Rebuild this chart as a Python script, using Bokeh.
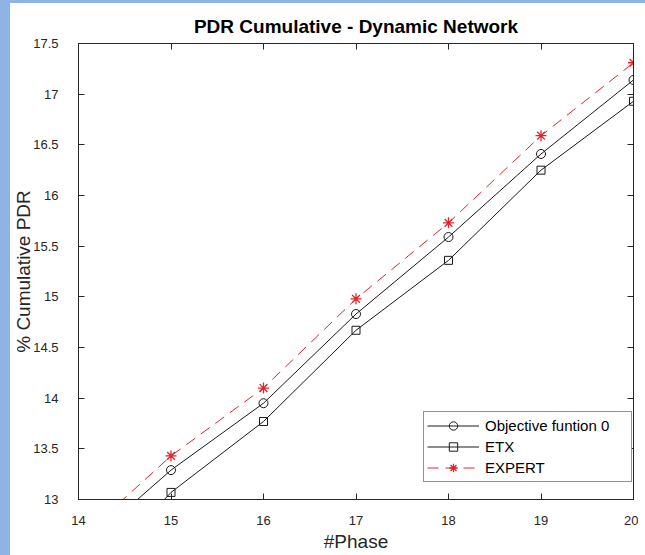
from bokeh.plotting import figure
from bokeh.models import (LinearAxis, FixedTicker, Legend, LegendItem, Range1d,
                          CustomLabelingPolicy, Div)
from bokeh.layouts import column, row
from bokeh.embed import file_html
from bokeh.resources import INLINE

phase = [14, 15, 16, 17, 18, 19, 20]
objective = [12.49, 13.29, 13.95, 14.83, 15.59, 16.41, 17.14]
etx = [12.10, 13.07, 13.77, 14.67, 15.36, 16.25, 16.93]
expert = [12.60, 13.43, 14.10, 14.98, 15.73, 16.59, 17.31]

x_ticks = [14, 15, 16, 17, 18, 19, 20]
y_ticks = [13, 13.5, 14, 14.5, 15, 15.5, 16, 16.5, 17, 17.5]
y_tick_labels = ["13", "13.5", "14", "14.5", "15", "15.5", "16", "16.5", "17", "17.5"]

FONT = "Liberation Sans"
AX = "#262626"
RED = "#e3242b"
BLUE = "#8db4e2"

p = figure(
    frame_width=555, frame_height=456,
    x_range=Range1d(14, 20), y_range=Range1d(13, 17.5),
    output_backend="svg", toolbar_location=None,
    min_border_left=67, min_border_top=40, min_border_right=0, min_border_bottom=56,
    title="PDR Cumulative - Dynamic Network",
    x_axis_label="#Phase", y_axis_label="% Cumulative PDR",
    margin=(0, 0, 0, 0),
)
p.title.align = "center"
p.title.text_font = FONT
p.title.text_font_size = "19px"
p.title.text_font_style = "bold"
p.title.text_color = "#000000"
p.title.standoff = 6

p.xgrid.visible = False
p.ygrid.visible = False
p.outline_line_color = AX
p.outline_line_width = 1
p.outline_line_alpha = 1
p.background_fill_color = "white"
p.border_fill_color = "white"

for ax in (p.xaxis[0], p.yaxis[0]):
    ax.major_tick_in = 6
    ax.major_tick_out = 0
    ax.minor_tick_in = 0
    ax.minor_tick_out = 0
    ax.axis_line_color = AX
    ax.major_tick_line_color = AX
    ax.major_label_text_font = FONT
    ax.major_label_text_font_size = "13px"
    ax.major_label_text_color = AX
    ax.axis_label_text_font = FONT
    ax.axis_label_text_font_size = "19px"
    ax.axis_label_text_font_style = "normal"
    ax.axis_label_text_color = AX

p.xaxis[0].ticker = FixedTicker(ticks=x_ticks)
p.yaxis[0].ticker = FixedTicker(ticks=y_ticks)
p.yaxis[0].major_label_overrides = {t: l for t, l in zip(y_ticks, y_tick_labels)}
p.xaxis[0].major_label_standoff = 16
p.xaxis[0].axis_label_standoff = 3
p.yaxis[0].major_label_standoff = 20
p.yaxis[0].axis_label_standoff = -4

# mirrored ticks on top and right (box style), without labels
hide_all = "for (const i of indices) { indices.unset(i) }\nreturn indices"
top = LinearAxis(ticker=FixedTicker(ticks=x_ticks),
                 major_label_policy=CustomLabelingPolicy(code=hide_all),
                 major_label_text_font_size="1px",
                 major_tick_in=6, major_tick_out=0, minor_tick_in=0, minor_tick_out=0,
                 axis_line_color=AX, major_tick_line_color=AX, major_label_standoff=0)
right = LinearAxis(ticker=FixedTicker(ticks=y_ticks),
                   major_label_policy=CustomLabelingPolicy(code=hide_all),
                   major_label_text_font_size="1px",
                   major_tick_in=6, major_tick_out=0, minor_tick_in=0, minor_tick_out=0,
                   axis_line_color=AX, major_tick_line_color=AX, major_label_standoff=0)
p.add_layout(top, "above")
p.add_layout(right, "right")

r1 = p.line(phase, objective, line_color="#1a1a1a", line_width=1)
m1 = p.scatter(phase, objective, marker="circle", size=9, fill_color=None,
               line_color="#1a1a1a", line_width=1)
r2 = p.line(phase, etx, line_color="#1a1a1a", line_width=1)
m2 = p.scatter(phase, etx, marker="square", size=8, fill_color=None,
               line_color="#1a1a1a", line_width=1)
r3 = p.line(phase, expert, line_color=RED, line_width=1, line_dash="11 7")
m3 = p.scatter(phase, expert, marker="asterisk", size=11, line_color=RED, line_width=1.3)

legend = Legend(items=[
    LegendItem(label="Objective funtion 0", renderers=[r1, m1]),
    LegendItem(label="ETX", renderers=[r2, m2]),
    LegendItem(label="EXPERT", renderers=[r3, m3]),
], location=(345, 17))
legend.label_text_font = FONT
legend.label_text_font_size = "15px"
legend.label_text_color = "#000000"
legend.border_line_color = AX
legend.border_line_width = 1
legend.background_fill_alpha = 1
legend.glyph_width = 52
legend.glyph_height = 21
legend.label_height = 21
legend.label_width = 143
legend.spacing = 0
legend.padding = 3
legend.margin = 0
legend.label_standoff = 6
p.add_layout(legend, "center")

top_strip = Div(width=645, height=3, margin=(0, 0, 0, 0),
                styles={"background-color": BLUE})
left_strip = Div(width=10, height=552, margin=(0, 0, 0, 0),
                 styles={"background-color": BLUE})
page = column(top_strip, row(left_strip, p, spacing=0, margin=(0, 0, 0, 0)),
              spacing=0, margin=(0, 0, 0, 0))

open("out.html", "w").write(file_html(page, INLINE))
